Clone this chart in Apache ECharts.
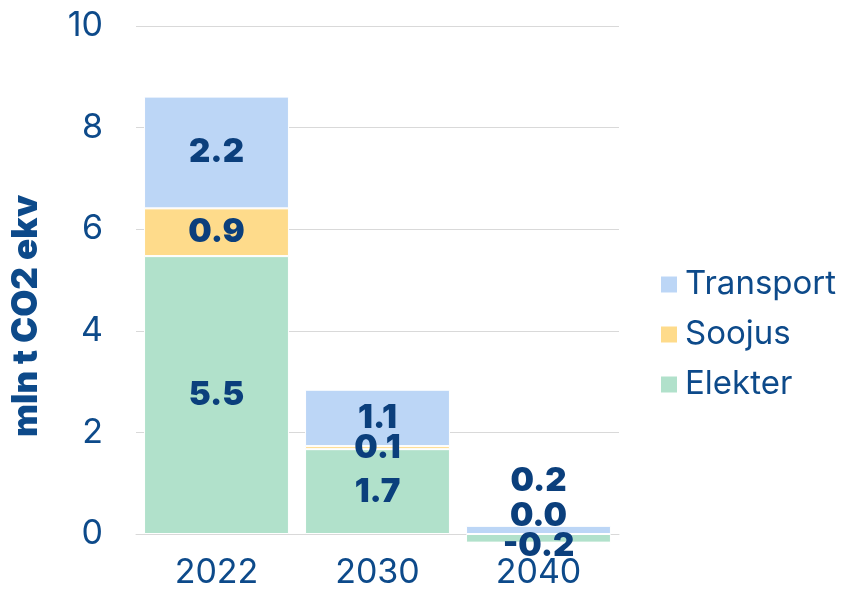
<!DOCTYPE html>
<html>
<head>
<meta charset="utf-8">
<script src="https://cdn.jsdelivr.net/npm/echarts@6/dist/echarts.min.js"></script>
<style>
    html, body { margin: 0; padding: 0; background: #fff; }
    #chart { width: 842px; height: 591px; }
</style>
</head>
<body>
<div id="chart"></div>
<script>
    // data
    var years = ['2022', '2030', '2040'];
    var elekter = [5.47, 1.67, -0.17];
    var soojus = [0.94, 0.06, 0.0];
    var transport = [2.2, 1.11, 0.16];
    var yTicks = [0, 2, 4, 6, 8, 10];

    var textColor = '#0D4A8A';
    var labelColor = '#0B3F7C';
    var font = 'Inter';

    // Excel spread the tiny 2040 labels out, mimic it with offsets
    var lastOffsets = { Elekter: [0, 8], Soojus: [0, -27], Transport: [0, -49] };

    function makeSeries(name, values, color) {
        return {
            name: name,
            type: 'bar',
            stack: 'total',
            clip: false,
            barCategoryGap: '10%',
            itemStyle: { color: color, borderColor: '#fff', borderWidth: 1 },
            label: {
                show: true,
                position: 'inside',
                color: labelColor,
                fontFamily: font,
                fontWeight: 900,
                fontSize: 33,
                formatter: function (p) { return p.value.toFixed(1); }
            },
            data: values.map(function (v, i) {
                if (i === values.length - 1) {
                    return { value: v, label: { offset: lastOffsets[name] } };
                }
                return v;
            })
        };
    }

    var chart = echarts.init(document.getElementById('chart'));
    chart.setOption({
        animation: false,
        grid: { left: 136, right: 223, top: 26, bottom: 57 },
        legend: {
            data: ['Transport', 'Soojus', 'Elekter'],
            orient: 'vertical',
            left: 654,
            top: 263,
            itemWidth: 18,
            itemHeight: 18,
            itemGap: 17,
            icon: 'rect',
            textStyle: { color: textColor, fontFamily: font, fontSize: 33, padding: [0, 0, 0, 2] }
        },
        xAxis: {
            type: 'category',
            data: years,
            axisTick: { show: false },
            axisLine: { lineStyle: { color: '#D9D9D9' } },
            axisLabel: { color: textColor, fontFamily: font, fontSize: 34, margin: 22 }
        },
        yAxis: {
            type: 'value',
            min: yTicks[0],
            max: yTicks[yTicks.length - 1],
            interval: yTicks[1] - yTicks[0],
            name: 'mln t CO2 ekv',
            nameLocation: 'middle',
            nameGap: 92,
            nameTextStyle: {
                color: textColor, fontFamily: font, fontSize: 35, fontWeight: 900,
                padding: [0, 72, 0, 0]
            },
            axisLabel: { color: textColor, fontFamily: font, fontSize: 34, margin: 33 },
            splitLine: { lineStyle: { color: '#D9D9D9' } }
        },
        series: [
            makeSeries('Elekter', elekter, '#B1E1CB'),
            makeSeries('Soojus', soojus, '#FEDB8B'),
            makeSeries('Transport', transport, '#BCD6F6')
        ]
    });
</script>
</body>
</html>
